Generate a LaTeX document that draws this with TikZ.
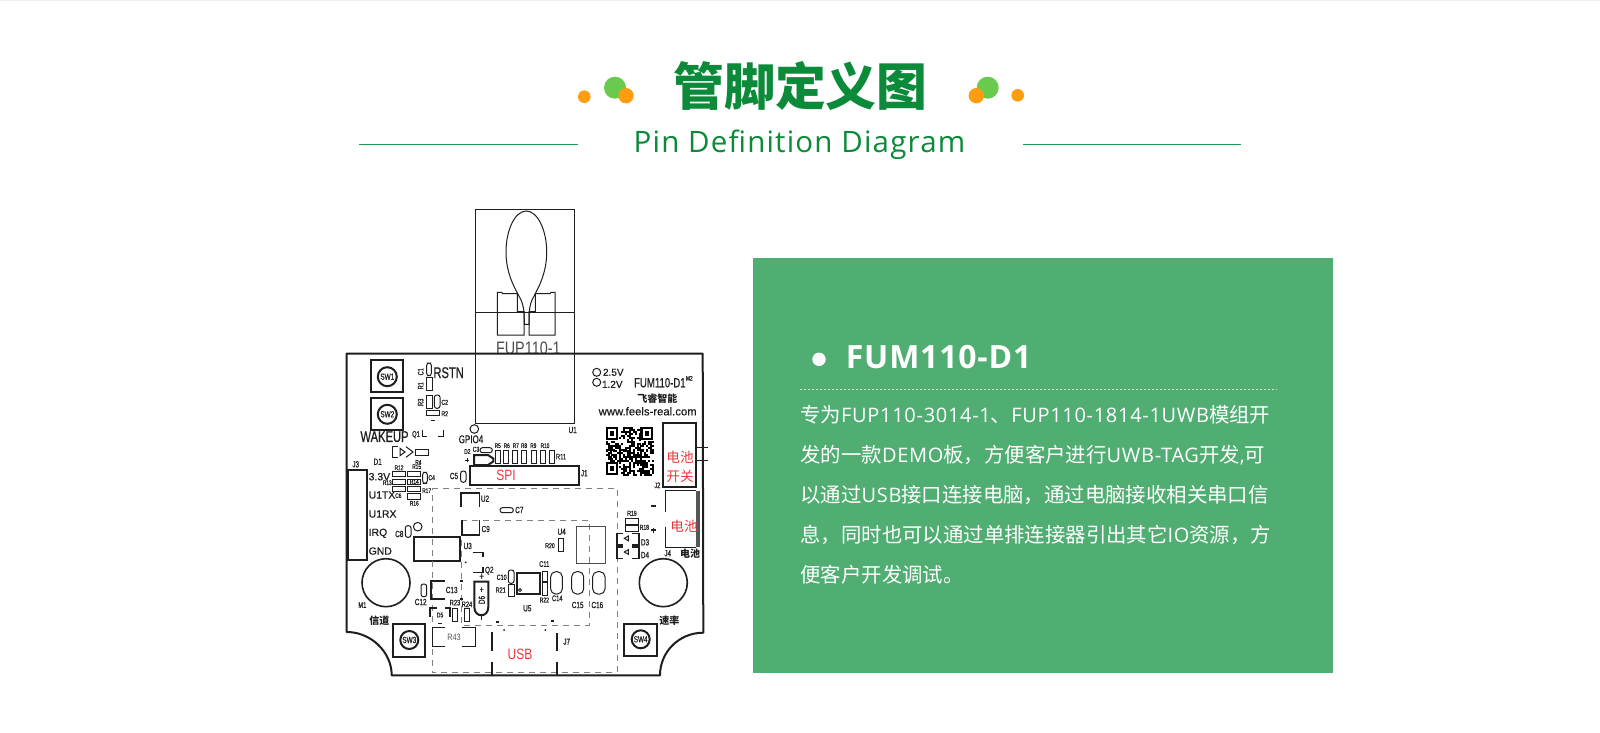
\documentclass[tikz,border=0pt]{standalone}
\usepackage{fontspec}
\setmainfont{Open Sans}
\newfontfamily\cadf[FakeStretch=0.72,Scale=1.11,FakeBold=0.6]{Liberation Sans}
\newfontfamily\cadw[FakeBold=0.6]{Liberation Sans}
\newfontfamily\cadthin[FakeStretch=0.8]{Liberation Sans}
\newfontfamily\cjkf{Noto Sans CJK SC}
\newfontfamily\bodyen[LetterSpace=3.5]{Open Sans}
\newfontfamily\bodycn[Scale=1.02]{Noto Sans CJK SC}
\newfontfamily\suben[LetterSpace=4]{Open Sans}
\newfontfamily\heads[LetterSpace=2.5]{Open Sans}
\definecolor{titlegreen}{HTML}{0B8A3A}
\definecolor{rulegreen}{HTML}{1F9A55}
\definecolor{panelgreen}{HTML}{50AE72}
\definecolor{dotorange}{HTML}{FF9C10}
\definecolor{dotgreen}{HTML}{68CB4E}
\definecolor{pcbred}{HTML}{E8383D}
\definecolor{ink}{HTML}{1E1E1E}
\tikzset{
  pcb/.style={draw=ink,line width=0.5pt},
  pcbthick/.style={draw=ink,line width=1pt},
  pcbmid/.style={draw=ink,line width=0.8pt},
  keepout/.style={draw=black!50,line width=0.5pt,dash pattern=on 3pt off 2.5pt},
  cadtext/.style={inner sep=0pt,text=ink},
}
% rectangle / rounded rectangle / label (size in pt)
\newcommand\pbx[5][]{\draw[pcb,#1] (#2,#3) rectangle (#4,#5);}
\newcommand\prr[5][]{\draw[pcb,rounded corners=1.2pt,#1] (#2,#3) rectangle (#4,#5);}
\newcommand\plb[5][]{\node[cadtext,font=\cadf\fontsize{#4}{#4}\selectfont,#1] at (#2,#3) {#5};}
\newcommand\pwd[5][]{\node[cadtext,font=\cadw\fontsize{#4}{#4}\selectfont,#1] at (#2,#3) {#5};}
\newcommand\pcn[5][]{\node[cadtext,font=\cjkf\fontsize{#4}{#4}\selectfont,#1] at (#2,#3) {#5};}
\begin{document}
\begin{tikzpicture}[x=0.5pt,y=-0.5pt]
\useasboundingbox (0,0) rectangle (1600,733);
\fill[white] (0,0) rectangle (1600,733);
\fill[black!6] (0,0) rectangle (1600,1.5);
% ---------- heading
\fill[dotorange] (584.3,96.7) circle[radius=6.3];
\fill[dotgreen] (615,87.7) circle[radius=11];
\fill[dotorange] (626,95.7) circle[radius=7.7];
\fill[dotorange] (1017.7,95.3) circle[radius=6.3];
\fill[dotgreen] (987.7,87.7) circle[radius=11];
\fill[dotorange] (976.3,95.7) circle[radius=7.7];
\draw[rulegreen,line width=0.7pt] (359.3,144.3) -- (578.3,144.3);
\draw[rulegreen,line width=0.7pt] (1023.3,144.3) -- (1241,144.3);
\node[inner sep=0pt,anchor=base,text=titlegreen,font=\cjkf\bfseries\fontsize{25.4}{25.4}\selectfont] at (800.5,105) {管脚定义图};
\node[inner sep=0pt,anchor=base,text=titlegreen,font=\suben\fontsize{14.75}{14.75}\selectfont] at (799.5,152.7) {Pin Definition Diagram};
% ---------- right panel
\fill[panelgreen] (752.7,258) rectangle (1333.3,672.7);
\fill[white] (819,359.3) circle[radius=6.7];
\node[inner sep=0pt,anchor=base west,text=white,font=\heads\bfseries\fontsize{16}{16}\selectfont] at (845.5,368.3) {FUM110-D1};
\draw[white,opacity=0.75,line width=0.5pt,dash pattern=on 1pt off 1pt] (800,389) -- (1276.7,389);
\begin{scope}[every node/.style={inner sep=0pt,anchor=base west,text=white,font=\bodyen\fontsize{10}{10}\selectfont}]
\node at (800,422.6) {{\bodycn 专为}FUP110-3014-1{\bodycn 、}FUP110-1814-1UWB{\bodycn 模组开}};
\node at (800,462.6) {{\bodycn 发的一款}DEMO{\bodycn 板，方便客户进行}UWB-TAG{\bodycn 开发}{,}{\bodycn 可}};
\node at (800,502.6) {{\bodycn 以通过}USB{\bodycn 接口连接电脑，通过电脑接收相关串口信}};
\node at (800,542.6) {{\bodycn 息，同时也可以通过单排连接器引出其它}IO{\bodycn 资源，方}};
\node at (800,582.6) {{\bodycn 便客户开发调试。}};
\end{scope}
% ---------- antenna module
\begin{scope}
\clip (470,300) rectangle (590,353);
\node[cadtext,text=black!70,font=\cadthin\fontsize{9}{9}\selectfont] at (528.3,348.3) {FUP110-1};
\end{scope}
\draw[pcb] (475,209) rectangle (574,423.3);
\draw[pcb] (475,312.3) -- (574,312.3);
\draw[pcb] (526.3,211) .. controls (515,211) and (506,230) .. (506,252)
  .. controls (506,275) and (516,290) .. (521,300)
  .. controls (523,305) and (524.3,308) .. (524.3,324.3) -- (529,324.3)
  .. controls (529,308) and (530,305) .. (532,300)
  .. controls (537,290) and (546.7,275) .. (546.7,252)
  .. controls (546.7,230) and (537.5,211) .. (526.3,211);
\draw[pcb] (497.3,335) -- (497.3,292.3) -- (501.7,292.3) -- (502.7,293.7) -- (517.3,293.7) -- (517.3,311.7) -- (524,311.7) -- (524,335) -- cycle;
\draw[pcb] (555,335) -- (555,292.3) -- (551,292.3) -- (550,293.7) -- (535.3,293.7) -- (535.3,311.7) -- (529,311.7) -- (529,335) -- cycle;
% ---------- board outline
\draw[pcbthick,line join=round] (346.7,353.5) -- (702.7,353.5) -- (703.3,632.7)
  .. controls (679,632.7) and (660,652) .. (660,675.3) -- (391.7,675.3)
  .. controls (391.7,652) and (371,632) .. (346.7,632) -- cycle;
% ---------- switches
\draw[pcbthick] (370.7,360.3) rectangle (403.3,392.3);
\draw[pcbthick] (387.3,376.7) circle[radius=9.5];
\plb{387.3}{376.7}{4}{SW1}
\draw[pcbthick] (370.7,397.7) rectangle (403.3,430);
\draw[pcbthick] (387.3,414.3) circle[radius=9.5];
\plb{387.3}{414.3}{4}{SW2}
\draw[pcbthick] (392.7,624) rectangle (425,656.7);
\draw[pcbthick] (409.3,640) circle[radius=9];
\plb{409.3}{640}{4}{SW3}
\draw[pcbthick] (624,624) rectangle (656.7,656);
\draw[pcbthick] (640.7,639.3) circle[radius=9];
\plb{640.7}{639.3}{4}{SW4}
% ---------- top-left parts
\prr{426.7}{363}{431.3}{375.7}
\plb[rotate=90]{420.7}{371.7}{3.6}{C1}
\pbx{426.3}{377.7}{432}{390.7}
\plb[rotate=90]{420.7}{385.7}{3.6}{R1}
\plb[anchor=west]{433}{372.7}{7}{RSTN}
\pbx{426.7}{395}{432}{408.3}
\plb[rotate=90]{420.7}{402.3}{3.6}{R3}
\prr{434.3}{395}{440}{408.3}
\plb{444.7}{402.3}{3.2}{C2}
\pbx{426}{410.7}{439.3}{415.7}
\plb{444.7}{413.7}{3.2}{R2}
\draw[pcb] (431,420) -- (434.5,420);
\draw[pcb] (474.3,429) circle[radius=4.3];
\plb{471}{439.3}{5}{GPIO4}
\plb{572.7}{430}{4}{U1}
\plb{384.5}{436.7}{7}{WAKEUP}
\plb{416}{434.7}{3.6}{Q1}
\draw[pcb] (422.7,430) -- (422.7,436.7) -- (427.3,436.7);
\draw[pcb] (438.3,436.7) -- (443.3,436.7) -- (443.3,430);
% diode D1
\draw[pcb] (398.3,446.7) -- (392.3,446.7) -- (392.3,457.3) -- (398.3,457.3);
\draw[pcb] (400,448.3) -- (405,452) -- (400,455.7) -- cycle;
\draw[pcb] (406,446.7) -- (413,452) -- (406,457.3);
\pbx{415}{449}{428.3}{455}
\plb{377.7}{461.7}{4}{D1}
\plb{355.7}{464.3}{4}{J3}
% header J3
\draw[pcbthick] (347.7,470) rectangle (366.7,560);
\pwd[anchor=west]{368.3}{476.7}{5.2}{3.3V}
\pwd[anchor=west]{368.3}{495}{5.2}{U1TX}
\pwd[anchor=west]{368.3}{514}{5.2}{U1RX}
\pwd[anchor=west]{368.3}{533.3}{5.2}{IRQ}
\pwd[anchor=west]{368.3}{551}{5.2}{GND}
% resistor cluster
\pbx{392.3}{471.3}{405.7}{476.7}
\pbx{407.7}{471.3}{420.7}{476.7}
\pbx{392.3}{479}{405.7}{484}
\pbx{407.7}{479}{420.7}{484}
\pbx{392.3}{486.7}{405.7}{491.7}
\pbx{407.7}{486.7}{420.7}{491.7}
\pbx{407.7}{493.3}{420.7}{499}
\prr{422.7}{472.3}{427.3}{483.3}
\plb{399}{467.7}{3}{R12}
\plb{418.3}{462.3}{3}{R4}
\plb{416.7}{466.7}{3}{R15}
\plb{387.3}{482.7}{3}{R13}
\plb{414.3}{481.7}{3}{R14}
\plb{426.7}{490.7}{3}{R17}
\plb{398.3}{495.7}{3}{C6}
\plb{414.3}{503.3}{3}{R16}
\plb{431.7}{477.7}{3.2}{C4}
\prr{405.3}{525.7}{411}{537.3}
\plb{399.3}{534}{4}{C8}
\draw[pcb] (417.7,526.7) circle[radius=4.3];
\draw[pcbthick] (414.3,537.3) rectangle (460,560.7);
\plb{467.7}{546}{4}{U3}
% indicator labels and logo
\draw[pcb] (596.7,372.3) circle[radius=4];
\draw[pcb] (596.7,382.3) circle[radius=4];
\pwd{613.3}{372.3}{5}{2.5V}
\pwd{612.3}{384.3}{5}{1.2V}
\plb[anchor=west]{633.7}{382.7}{6}{FUM110-D1}
\plb{689.3}{378.3}{3}{M2}
\pcn[font=\cjkf\bfseries\fontsize{5}{5}\selectfont]{657.3}{398.3}{5}{飞睿智能}
\pwd{647.7}{411.3}{5.65}{www.feels-real.com}
% QR code
\pgfmathsetseed{11}
\foreach \i in {0,...,24}{\foreach \j in {0,...,24}{%
  \pgfmathparse{rnd<0.56?1:0}%
  \ifnum\pgfmathresult=1\relax
    \fill[black] ({605.7+\i*1.93},{427.3+\j*1.93}) rectangle +(2,2);
  \fi}}
\foreach \qx/\qy in {605.7/427.3,640.5/427.3,605.7/462}{%
  \fill[white] (\qx,\qy) rectangle +(13.5,13.5);
  \fill[black] (\qx,\qy) rectangle +(12.5,12.5);
  \fill[white] ({\qx+2},{\qy+2}) rectangle +(8.5,8.5);
  \fill[black] ({\qx+4},{\qy+4}) rectangle +(4.5,4.5);}
% battery switch J2
\draw[pcbthick] (663.3,423.3) rectangle (696,486.7);
\draw[pcb] (696,447.3) -- (708.3,447.3);
\draw[pcb] (696,460) -- (708.3,460);
\pcn[text=pcbred]{680}{457.3}{6.8}{电池}
\pcn[text=pcbred]{680}{476.7}{6.8}{开关}
\plb{657.3}{485.3}{3.6}{J2}
% SPI row
\prr{480}{447.7}{492.3}{452.7}
\plb{476}{449.3}{3.2}{C3}
\plb{467.3}{451.5}{3}{D2}
\draw[pcb] (465.3,460) -- (469.3,460);
\draw[pcb] (467.3,458) -- (467.3,462);
\draw[pcbthick] (474,455) -- (488,455) -- (493.3,458.5) -- (493.3,461.5) -- (488,465) -- (474,465) -- cycle;
\pbx{495}{450.7}{500}{463.3}
\pbx{503.3}{450.7}{508.3}{463.3}
\pbx{512.3}{450.7}{517.3}{463.3}
\pbx{521.7}{450.7}{526.7}{463.3}
\pbx{531}{450.7}{536}{463.3}
\pbx{540}{450.7}{545}{463.3}
\pbx{549}{450.7}{554}{463.3}
\plb{497.7}{445.7}{3}{R5}
\plb{506.7}{445.7}{3}{R6}
\plb{515.7}{445.7}{3}{R7}
\plb{524}{445.7}{3}{R8}
\plb{533.3}{445.7}{3}{R9}
\plb{545}{445.7}{3}{R10}
\plb{561}{456.7}{3.6}{R11}
\draw[pcbthick] (470,466) rectangle (579,485);
\node[cadtext,text=pcbred,font=\cadthin\fontsize{7.5}{7.5}\selectfont] at (506,475.7) {SPI};
\plb{584.3}{473.3}{4}{J1}
\prr{460.7}{471}{466}{482.3}
\plb{454}{476}{4}{C5}
% keep-out outlines
\draw[keepout] (432.3,488) -- (617,488) -- (617,672.7) -- (432.3,672.7) -- cycle;
\draw[keepout] (461,520) -- (589,520) -- (589,625) -- (461,625) -- cycle;
% power section
\draw[pcbmid] (461,506.7) -- (461,492.7) -- (479.3,492.7) -- (479.3,506.7);
\plb{485}{498.7}{4}{U2}
\prr{500}{507.7}{513.3}{512.7}
\plb{519.3}{510}{4}{C7}
\draw[pcbmid] (461.7,520) -- (461.7,535) -- (479.3,535) -- (479.3,520);
\plb{485.7}{529}{4}{C9}
\draw[pcbmid] (472.7,552.3) -- (482.7,552.3) -- (482.7,556.7);
\draw[pcbmid] (472.7,572.3) -- (482.7,572.3) -- (482.7,567.3);
\fill[ink] (465.7,562.3) circle[radius=1];
\plb{489.3}{570.7}{4}{Q2}
\plb{481.7}{576.7}{5}{+}
\draw[pcbthick] (474.3,581.7) -- (488.3,581.7) -- (488.3,607) .. controls (488.3,618) and (474.3,618) .. (474.3,607) -- cycle;
\plb{481.7}{590}{4}{+}
\plb[rotate=90]{481.7}{600}{4}{D6}
\draw[pcb] (481.7,615) -- (481.7,620);
\draw[pcbmid] (445,580.7) -- (430.7,580.7) -- (430.7,599) -- (445,599);
\draw[pcbmid] (460,580.7) -- (463,580.7);
\draw[pcbmid] (460,599) -- (463,599);
\plb{451.7}{590}{4}{C13}
\prr{421}{584}{426.7}{596.7}
\plb{420.7}{602}{4}{C12}
\draw[pcbmid] (436.7,607.7) -- (430,607.7) -- (430,616.7);
\draw[pcbmid] (445,607.7) -- (450,607.7) -- (450,616.7);
\plb{440}{615}{3.2}{D5}
\draw[pcb] (438,623.3) -- (442,623.3);
\pbx{452}{608.3}{457.7}{621.7}
\plb{455}{602.7}{3.6}{R23}
\pbx{464}{608.3}{469.3}{621.7}
\plb{467}{604.3}{3.6}{R24}
\draw[pcb] (445,627.3) -- (432.7,627.3) -- (432.7,646) -- (445,646);
\draw[pcb] (461.7,627.3) -- (475.7,627.3) -- (475.7,646) -- (461.7,646);
\node[cadtext,text=black!65,font=\cadthin\fontsize{4.6}{4.6}\selectfont] at (454,637.3) {R43};
% mounting holes
\draw[pcbmid] (386,582.7) circle[radius=24];
\draw[pcbmid] (663.3,582.7) circle[radius=24];
\plb{362.3}{605}{3.6}{M1}
\pcn[font=\cjkf\bfseries\fontsize{5}{5}\selectfont]{379.3}{621}{5}{信道}
\pcn[font=\cjkf\bfseries\fontsize{5}{5}\selectfont]{669.3}{620.7}{5}{速率}
% MCU area
\draw[pcbthick] (517.3,572.7) rectangle (540,594);
\draw[pcb] (520,590) circle[radius=1.5];
\plb{527.3}{608.3}{4}{U5}
\prr{508.3}{570}{514}{583.3}
\plb{501.7}{577.3}{3.4}{C10}
\pbx{508.3}{584.3}{514}{596.7}
\plb{500.7}{590}{3.4}{R21}
\pbx{542.3}{571}{547.7}{581.7}
\plb{544.3}{564}{3.6}{C11}
\pbx{542.3}{582.7}{547.7}{595}
\plb{544.3}{600}{3.2}{R22}
\draw[pcb,rounded corners=2.5pt] (550.7,571.7) rectangle (562.3,594);
\plb{557.3}{598.3}{3.6}{C14}
\draw[pcb,rounded corners=2.5pt] (571.7,571.7) rectangle (583.7,594);
\plb{577.7}{605}{4}{C15}
\draw[pcb,rounded corners=2.5pt] (592.7,571.7) rectangle (605,594);
\plb{597.3}{605}{4}{C16}
\draw[draw=black!70,line width=0.5pt] (576.3,526.7) rectangle (605,563.3);
\plb{561.7}{531.7}{4}{U4}
\pbx{558.3}{538.3}{563.7}{551}
\plb{550}{545.7}{3.2}{R20}
% right column
\pbx{625.3}{518.7}{638.7}{524}
\plb{632}{513.3}{3.2}{R19}
\pbx{625.3}{525.7}{638.7}{531}
\plb{644.3}{527.3}{3.2}{R18}
\draw[pcbmid] (651,530) -- (656,530);
\draw[pcbmid] (653.5,527.5) -- (653.5,532.5);
\draw[pcbmid] (651,506) -- (656,506);
\draw[pcbmid] (623,533.3) -- (616.7,533.3) -- (616.7,545) -- (623,545);
\draw[pcbmid] (632,533.3) -- (638.7,533.3) -- (638.7,545) -- (632,545);
\draw[pcb] (624.3,538.3) -- (628.3,536) -- (628.3,540.7) -- cycle;
\plb{645}{542.3}{4}{D3}
\draw[pcbmid] (623,546.7) -- (616.7,546.7) -- (616.7,558.3) -- (623,558.3);
\draw[pcbmid] (632,546.7) -- (638.7,546.7) -- (638.7,558.3) -- (632,558.3);
\draw[pcb] (624.3,552) -- (628.3,549.7) -- (628.3,554.3) -- cycle;
\plb{645}{555}{4}{D4}
% battery connector J4
\draw[pcb] (665,511.7) -- (665,490.7) -- (696,490.7);
\draw[pcb] (665,526.7) -- (665,547.3) -- (696,547.3);
\fill[ink!75] (695.7,490.7) rectangle (700,547.3);
\pcn[text=pcbred]{684}{526.7}{6.8}{电池}
\plb{667.7}{553.3}{4}{J4}
\pcn[font=\cjkf\bfseries\fontsize{5}{5}\selectfont]{690}{554}{5}{电池}
% USB J7
\draw[pcbthick] (492.3,632) -- (492.3,650.7);
\draw[pcbthick] (492.3,661.7) -- (492.3,675);
\draw[pcbthick] (557.3,632.7) -- (557.3,650.7);
\draw[pcbthick] (557.3,661.7) -- (557.3,675);
\node[cadtext,text=pcbred,font=\cadthin\fontsize{7.5}{7.5}\selectfont] at (520,654.5) {USB};
\plb{566.7}{641.7}{4}{J7}
\draw[pcbthick] (495.5,621.7) -- (499,621.7);
\draw[pcbthick] (550.5,621) -- (554,621);
\fill[ink] (504,630) circle[radius=1];
\fill[ink] (545.3,630) circle[radius=1];
\end{tikzpicture}
\end{document}
